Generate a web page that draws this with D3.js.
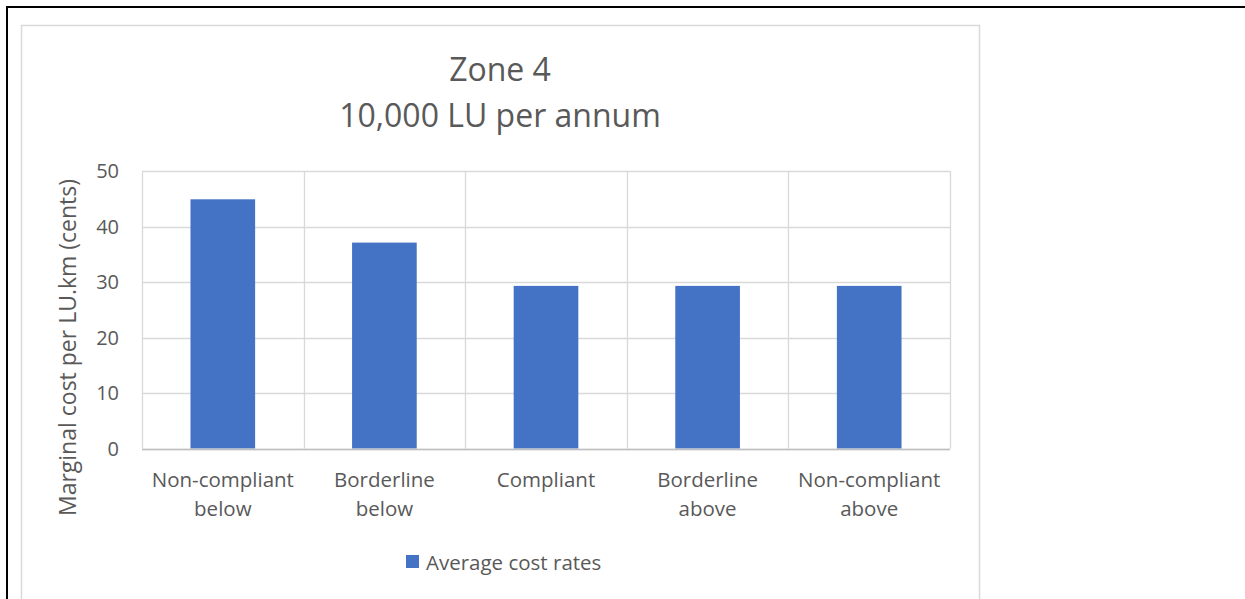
<!DOCTYPE html>
<html>
<head>
<meta charset="utf-8">
<script src="https://cdn.jsdelivr.net/npm/d3@7"></script>
<style>
  html, body { margin: 0; padding: 0; background: #fff; }
  svg { display: block; }
  text { font-family: "Open Sans", Lato, sans-serif; fill: #595959; }
</style>
</head>
<body>
<svg id="chart" width="1245" height="599"></svg>
<script>
// Chart data
const categories = [["Non-compliant", "below"], ["Borderline", "below"], ["Compliant"], ["Borderline", "above"], ["Non-compliant", "above"]];
const costRates = [44.9, 37.1, 29.3, 29.3, 29.3];
const yTicks = [0, 10, 20, 30, 40, 50];
const titleLines = ["Zone 4", "10,000 LU per annum"];
const yAxisTitle = "Marginal cost per LU.km (cents)";
const seriesName = "Average cost rates";

const svg = d3.select("#chart");
const W = 1245, H = 599;

// page frame (black rule top and left)
svg.append("line").attr("x1", 6).attr("x2", W).attr("y1", 7).attr("y2", 7)
  .attr("stroke", "#000").attr("stroke-width", 2);
svg.append("line").attr("x1", 7).attr("x2", 7).attr("y1", 6).attr("y2", H)
  .attr("stroke", "#000").attr("stroke-width", 2);

// chart area border
svg.append("path")
  .attr("d", `M21.5,${H} V25.5 H979.5 V${H}`)
  .attr("fill", "none").attr("stroke", "#d9d9d9").attr("stroke-width", 1.5);

const plot = { left: 142, right: 950, top: 171, bottom: 448.5 };

const x = d3.scaleBand()
  .domain(d3.range(categories.length))
  .range([plot.left, plot.right])
  .paddingInner(0).paddingOuter(0);

const y = d3.scaleLinear().domain([0, 50]).range([plot.bottom, plot.top]);

const g = svg.append("g");

// horizontal gridlines
g.selectAll("line.hgrid").data(yTicks).join("line")
  .attr("class", "hgrid")
  .attr("x1", plot.left).attr("x2", plot.right)
  .attr("y1", d => Math.round(y(d)) + 0.5).attr("y2", d => Math.round(y(d)) + 0.5)
  .attr("stroke", "#d9d9d9").attr("stroke-width", 1.3);

// vertical gridlines at category boundaries
const bounds = d3.range(categories.length + 1).map(i => i < categories.length ? x(i) : plot.right);
g.selectAll("line.vgrid").data(bounds).join("line")
  .attr("class", "vgrid")
  .attr("x1", d => Math.round(d) + 0.5).attr("x2", d => Math.round(d) + 0.5)
  .attr("y1", plot.top).attr("y2", plot.bottom)
  .attr("stroke", "#d9d9d9").attr("stroke-width", 1.3);

// bars (gap width 150%)
const barW = x.bandwidth() / 2.5;
g.selectAll("rect.bar").data(costRates).join("rect")
  .attr("class", "bar")
  .attr("x", (d, i) => x(i) + (x.bandwidth() - barW) / 2)
  .attr("width", barW)
  .attr("y", d => y(d))
  .attr("height", d => y(0) - y(d))
  .attr("fill", "#4472c4");

// category axis line
g.append("line")
  .attr("x1", plot.left).attr("x2", plot.right)
  .attr("y1", Math.round(y(0)) + 0.5).attr("y2", Math.round(y(0)) + 0.5)
  .attr("stroke", "#bfbfbf").attr("stroke-width", 1.3);

// y tick labels
g.selectAll("text.ytick").data(yTicks).join("text")
  .attr("class", "ytick")
  .attr("x", 119).attr("y", d => y(d))
  .attr("dy", "0.36em")
  .attr("text-anchor", "end")
  .style("font-size", "20px")
  .text(d => d);

// category labels
const cat = g.selectAll("text.cat").data(categories).join("text")
  .attr("class", "cat")
  .attr("text-anchor", "middle")
  .style("font-size", "20.5px")
  .attr("transform", (d, i) => `translate(${x(i) + x.bandwidth() / 2},487)`);
cat.selectAll("tspan").data(d => d).join("tspan")
  .attr("x", 0).attr("y", (d, j) => j * 29)
  .text(d => d);

// title
svg.append("text")
  .attr("text-anchor", "middle")
  .attr("transform", "translate(500,81)")
  .style("font-size", "32px")
  .selectAll("tspan").data(titleLines).join("tspan")
  .attr("x", 0).attr("y", (d, i) => i * 46)
  .text(d => d);

// y axis title
svg.append("text")
  .attr("text-anchor", "middle")
  .attr("transform", "translate(76,347.5) rotate(-90)")
  .style("font-size", "23px")
  .text(yAxisTitle);

// legend
const lg = svg.append("g").attr("transform", "translate(406,555)");
lg.append("rect").attr("width", 13).attr("height", 13).attr("fill", "#4472c4");
lg.append("text").attr("x", 20).attr("y", 15).style("font-size", "20.5px").text(seriesName);
</script>
</body>
</html>
